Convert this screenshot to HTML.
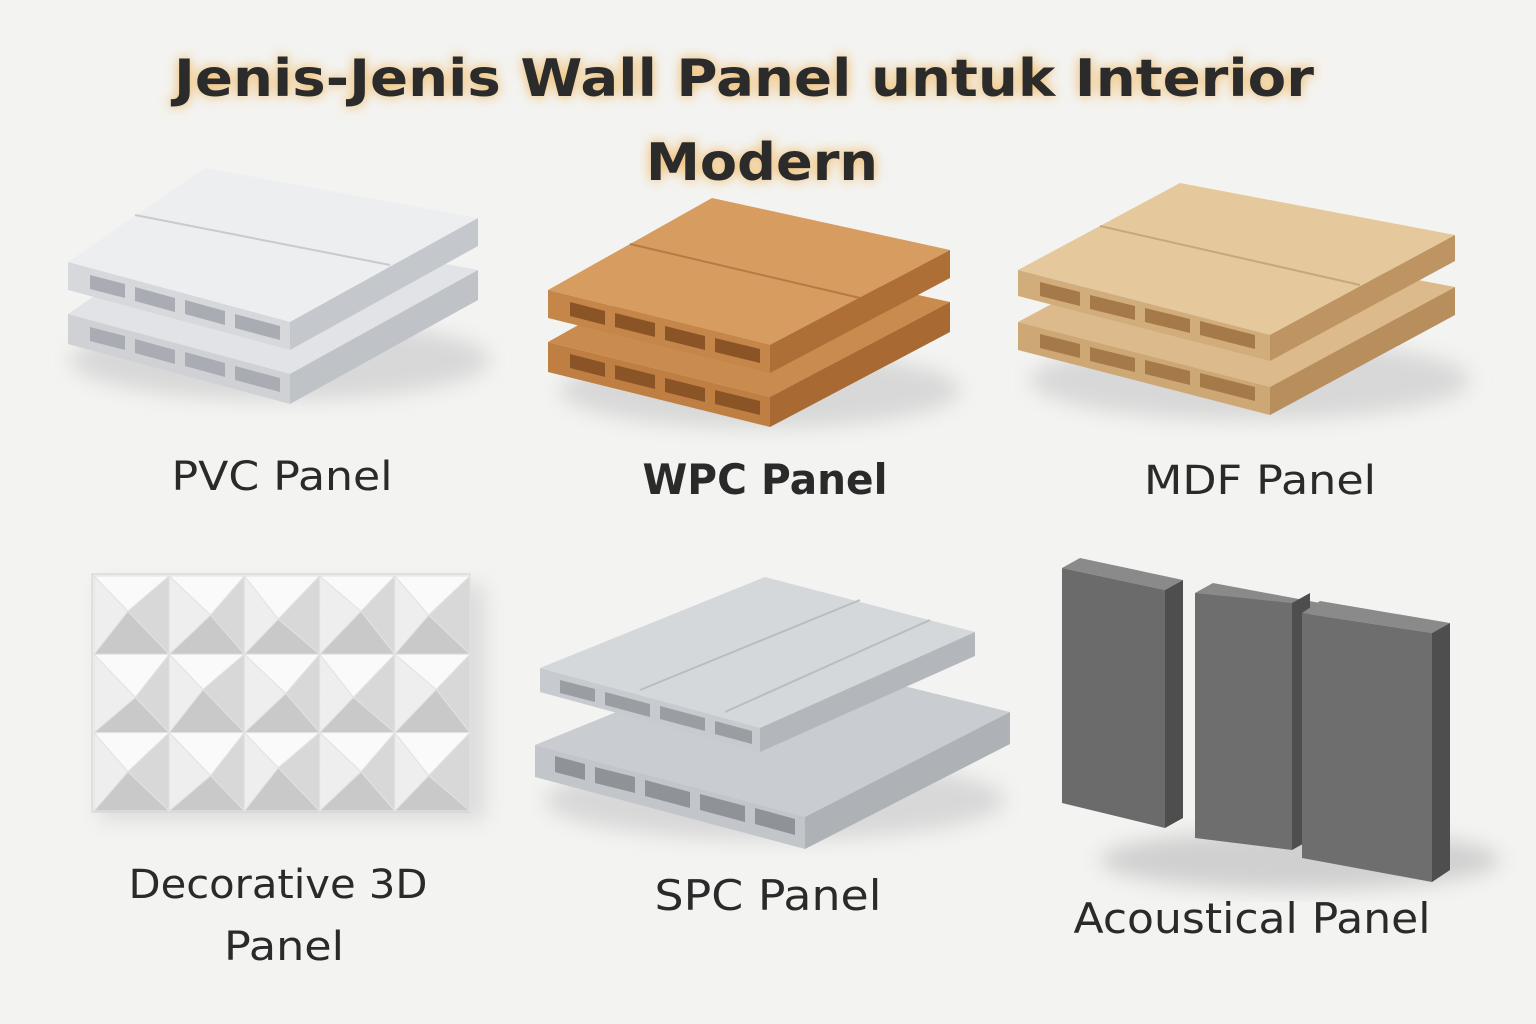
<!DOCTYPE html>
<html><head><meta charset="utf-8"><style>
html,body{margin:0;padding:0;background:#f3f3f1}
svg{display:block}
text{font-family:"DejaVu Sans","Liberation Sans",sans-serif;fill:#2a2a2a}
</style></head><body>
<svg width="1536" height="1024" viewBox="0 0 1536 1024" xmlns="http://www.w3.org/2000/svg">
<defs>
<filter id="glow" x="-10%" y="-30%" width="120%" height="160%"><feGaussianBlur stdDeviation="6"/></filter>
<filter id="sh" x="-20%" y="-20%" width="140%" height="140%"><feGaussianBlur stdDeviation="10"/></filter>
</defs>
<rect width="1536" height="1024" fill="#f3f3f1"/>
<g font-size="52" font-weight="bold" text-anchor="middle">
<text x="744" y="96" style="fill:#f0b55a" filter="url(#glow)" textLength="1140" lengthAdjust="spacingAndGlyphs">Jenis-Jenis Wall Panel untuk Interior</text>
<text x="762" y="180" style="fill:#f0b55a" filter="url(#glow)" textLength="232" lengthAdjust="spacingAndGlyphs">Modern</text>
<text x="744" y="96" style="fill:#2b2b2b" textLength="1140" lengthAdjust="spacingAndGlyphs">Jenis-Jenis Wall Panel untuk Interior</text>
<text x="762" y="180" style="fill:#2b2b2b" textLength="232" lengthAdjust="spacingAndGlyphs">Modern</text>
</g>

<!-- PVC -->
<g>
<ellipse cx="280" cy="360" rx="210" ry="40" fill="#d8d8d8" filter="url(#sh)"/>
<g transform="translate(0,52)">
<polygon points="68,262 205,168 478,218 290,322" fill="#e2e3e6"/>
<polygon points="68,262 290,322 290,352 68,292" fill="#cfd1d5"/>
<polygon points="290,322 478,218 478,248 290,352" fill="#bfc2c7"/>
<g fill="#a9adb3"><polygon points="90,275 125,284 125,298 90,289"/><polygon points="135,287 175,298 175,312 135,301"/><polygon points="185,300 225,311 225,325 185,314"/><polygon points="235,314 280,326 280,340 235,328"/></g>
</g>
<polygon points="68,262 205,168 478,218 290,322" fill="#eceef0"/>
<line x1="135" y1="215" x2="390" y2="265" stroke="#c8cacd" stroke-width="2"/>
<polygon points="68,262 290,322 290,350 68,290" fill="#d6d8dc"/>
<polygon points="290,322 478,218 478,246 290,350" fill="#c4c7cc"/>
<g fill="#a9adb3"><polygon points="90,275 125,284 125,298 90,289"/><polygon points="135,287 175,298 175,312 135,301"/><polygon points="185,300 225,311 225,325 185,314"/><polygon points="235,314 280,326 280,340 235,328"/></g>
</g>
<text x="282" y="490" font-size="40" text-anchor="middle" textLength="221" lengthAdjust="spacingAndGlyphs">PVC Panel</text>

<!-- WPC -->
<g>
<ellipse cx="760" cy="390" rx="200" ry="38" fill="#d8d8d8" filter="url(#sh)"/>
<g transform="translate(0,52)">
<polygon points="548,290 712,198 950,250 770,345" fill="#c98b4e"/>
<polygon points="548,290 770,345 770,375 548,320" fill="#c07f42"/>
<polygon points="770,345 950,250 950,280 770,375" fill="#a86a32"/>
<g fill="#8a5426"><polygon points="570,302 605,311 605,325 570,316"/><polygon points="615,313 655,323 655,337 615,327"/><polygon points="665,326 705,336 705,350 665,340"/><polygon points="715,338 760,349 760,363 715,352"/></g>
</g>
<polygon points="548,290 712,198 950,250 770,345" fill="#d79c5f"/>
<line x1="630" y1="244" x2="860" y2="298" stroke="#b87a40" stroke-width="2"/>
<polygon points="548,290 770,345 770,373 548,318" fill="#c5864a"/>
<polygon points="770,345 950,250 950,278 770,373" fill="#ad6f36"/>
<g fill="#8a5426"><polygon points="570,302 605,311 605,325 570,316"/><polygon points="615,313 655,323 655,337 615,327"/><polygon points="665,326 705,336 705,350 665,340"/><polygon points="715,338 760,349 760,363 715,352"/></g>
</g>
<text x="765" y="494" font-size="42" font-weight="bold" text-anchor="middle" textLength="245" lengthAdjust="spacingAndGlyphs">WPC Panel</text>

<!-- MDF -->
<g>
<ellipse cx="1250" cy="380" rx="220" ry="40" fill="#d8d8d8" filter="url(#sh)"/>
<g transform="translate(0,52)">
<polygon points="1018,270 1180,183 1455,235 1270,335" fill="#dcba8c"/>
<polygon points="1018,270 1270,335 1270,363 1018,298" fill="#cda774"/>
<polygon points="1270,335 1455,235 1455,263 1270,363" fill="#b88f5c"/>
<g fill="#a57a48"><polygon points="1040,282 1080,292 1080,306 1040,296"/><polygon points="1090,295 1135,306 1135,320 1090,309"/><polygon points="1145,308 1190,319 1190,333 1145,322"/><polygon points="1200,321 1255,335 1255,349 1200,335"/></g>
</g>
<polygon points="1018,270 1180,183 1455,235 1270,335" fill="#e6c89d"/>
<line x1="1100" y1="226" x2="1360" y2="285" stroke="#c9a77a" stroke-width="2"/>
<polygon points="1018,270 1270,335 1270,361 1018,296" fill="#d2ad7c"/>
<polygon points="1270,335 1455,235 1455,261 1270,361" fill="#bd9462"/>
<g fill="#a57a48"><polygon points="1040,282 1080,292 1080,306 1040,296"/><polygon points="1090,295 1135,306 1135,320 1090,309"/><polygon points="1145,308 1190,319 1190,333 1145,322"/><polygon points="1200,321 1255,335 1255,349 1200,335"/></g>
</g>
<text x="1260" y="494" font-size="40" text-anchor="middle" textLength="232" lengthAdjust="spacingAndGlyphs">MDF Panel</text>

<!-- Decorative 3D -->
<rect x="100" y="585" width="385" height="235" fill="#dcdcdc" filter="url(#sh)"/>
<rect x="92" y="574" width="378" height="238" fill="#f2f2f2" stroke="#d0d0d0"/>
<g id="t3d"></g>
<script>
(function(){
var g=document.getElementById('t3d');var ns='http://www.w3.org/2000/svg';
var x0=94,y0=576,w=75.2,h=78.3;
for(var r=0;r<3;r++)for(var c=0;c<5;c++){
var x=x0+c*w,y=y0+r*h,cx=x+w*(0.45+0.1*((r+c)%2)),cy=y+h*(0.45+0.1*((r*2+c)%3)/2);
var pts=[[x,y,x+w,y,'#fafafa'],[x+w,y,x+w,y+h,'#d8d8d8'],[x+w,y+h,x,y+h,'#c9c9c9'],[x,y+h,x,y,'#eeeeee']];
pts.forEach(function(p){var e=document.createElementNS(ns,'polygon');
e.setAttribute('points',p[0]+','+p[1]+' '+p[2]+','+p[3]+' '+cx+','+cy);e.setAttribute('fill',p[4]);
e.setAttribute('stroke','#e2e2e2');e.setAttribute('stroke-width','1');g.appendChild(e);});
}})();
</script>
<text x="278" y="898" font-size="40" text-anchor="middle" textLength="299" lengthAdjust="spacingAndGlyphs">Decorative 3D</text>
<text x="284" y="960" font-size="40" text-anchor="middle" textLength="120" lengthAdjust="spacingAndGlyphs">Panel</text>

<!-- SPC -->
<g>
<ellipse cx="775" cy="800" rx="230" ry="40" fill="#d8d8d8" filter="url(#sh)"/>
<g transform="translate(0,62)">
<polygon points="535,683 765,590 1010,650 805,755" fill="#c9ccd0"/>
<polygon points="535,683 805,755 805,787 535,715" fill="#c2c5c9"/>
<polygon points="805,755 1010,650 1010,682 805,787" fill="#aeb2b7"/>
<g fill="#8f9398"><polygon points="555,694 585,702 585,718 555,710"/><polygon points="595,705 635,715 635,731 595,721"/><polygon points="645,718 690,730 690,746 645,734"/><polygon points="700,732 745,744 745,760 700,748"/><polygon points="755,746 795,757 795,773 755,762"/></g>
</g>
<polygon points="540,668 765,577 975,632 760,728" fill="#d5d8db"/>
<line x1="640" y1="690" x2="860" y2="600" stroke="#b9bcc0" stroke-width="2"/>
<line x1="725" y1="712" x2="930" y2="620" stroke="#b9bcc0" stroke-width="2"/>
<polygon points="540,668 760,728 760,752 540,692" fill="#c7cace"/>
<polygon points="760,728 975,632 975,656 760,752" fill="#b3b7bc"/>
<g fill="#9a9ea3"><polygon points="560,680 595,689 595,702 560,693"/><polygon points="605,692 650,704 650,717 605,705"/><polygon points="660,706 705,718 705,731 660,719"/><polygon points="715,721 752,731 752,744 715,734"/></g>
</g>
<text x="768" y="910" font-size="42" text-anchor="middle" textLength="227" lengthAdjust="spacingAndGlyphs">SPC Panel</text>

<!-- Acoustical -->
<g>
<ellipse cx="1300" cy="860" rx="200" ry="30" fill="#d0d0d0" filter="url(#sh)"/>
<polygon points="1062,568 1080,558 1183,580 1165,590" fill="#8a8a8a"/>
<polygon points="1165,590 1183,580 1183,818 1165,828" fill="#4e4e4e"/>
<polygon points="1062,568 1165,590 1165,828 1062,803" fill="#6b6b6b"/>
<polygon points="1195,593 1213,583 1320,603 1302,613" fill="#8a8a8a"/>
<polygon points="1292,603 1310,593 1310,840 1292,850" fill="#4e4e4e"/>
<polygon points="1195,593 1292,603 1292,850 1195,838" fill="#6e6e6e"/>
<polygon points="1302,613 1320,601 1450,623 1432,633" fill="#8a8a8a"/>
<polygon points="1432,633 1450,623 1450,870 1432,882" fill="#4e4e4e"/>
<polygon points="1302,613 1432,633 1432,882 1302,858" fill="#6e6e6e"/>
</g>
<text x="1252" y="933" font-size="42" text-anchor="middle" textLength="357" lengthAdjust="spacingAndGlyphs">Acoustical Panel</text>
</svg>
</body></html>
